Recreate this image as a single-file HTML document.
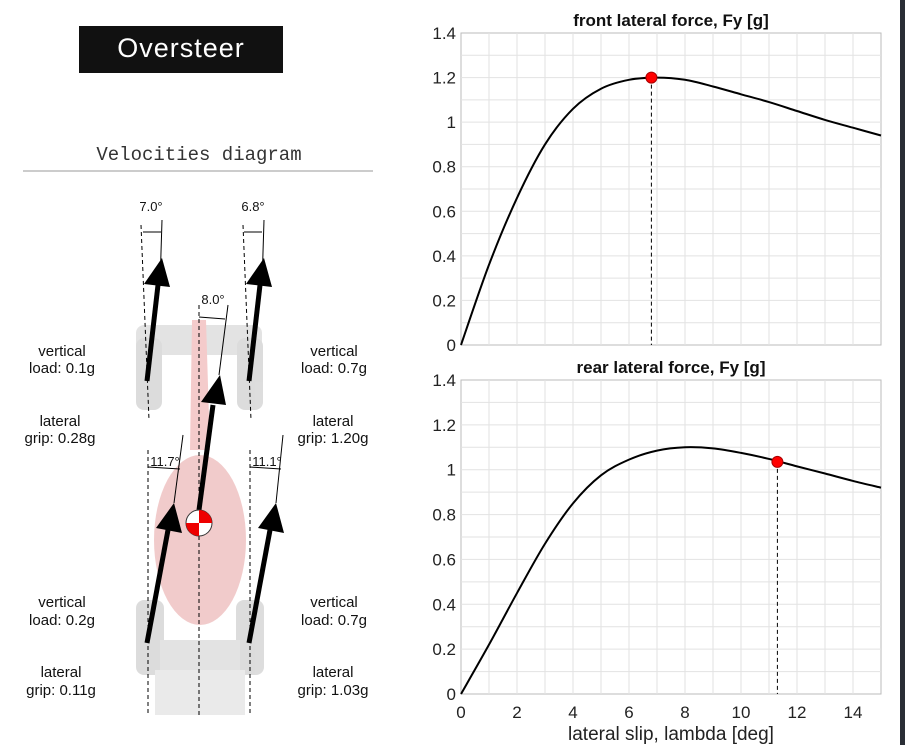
<!DOCTYPE html>
<html><head><meta charset="utf-8"><style>
html,body{margin:0;padding:0;background:#fff;width:905px;height:745px;overflow:hidden}
svg text{font-family:"Liberation Sans",sans-serif}
</style></head><body>
<svg width="905" height="745" viewBox="0 0 905 745">
<rect x="900" y="0" width="5" height="745" fill="#2a2e36"/>
<g>
<rect x="79" y="26" width="204" height="47" fill="#111"/>
<text x="181" y="57" text-anchor="middle" font-size="27" fill="#fff" letter-spacing="1">Oversteer</text>
</g>
<text x="199" y="160" text-anchor="middle" font-size="19" font-family="Liberation Mono" style="font-family:'Liberation Mono',monospace" fill="#333">Velocities diagram</text>
<line x1="23" y1="171" x2="373" y2="171" stroke="#999" stroke-width="1"/>
<g opacity="0.2">
<rect x="136" y="325" width="126" height="30" rx="8" fill="#777"/>
<rect x="136" y="338" width="26" height="72" rx="8" fill="#555"/>
<rect x="237" y="338" width="26" height="72" rx="8" fill="#555"/>
<path d="M192 320 L206 320 L210 450 L190 450 Z" fill="#c00"/>
<ellipse cx="200" cy="540" rx="46" ry="85" fill="#b00"/>
<rect x="136" y="600" width="28" height="75" rx="8" fill="#555"/>
<rect x="236" y="600" width="28" height="75" rx="8" fill="#555"/>
<rect x="160" y="640" width="80" height="30" fill="#777"/>
<rect x="155" y="670" width="90" height="45" fill="#999"/>
</g>
<g stroke="#000" stroke-width="1" stroke-dasharray="4,3">
<line x1="141" y1="225" x2="149" y2="420"/><line x1="243" y1="225" x2="251" y2="420"/>
<line x1="199" y1="305" x2="199" y2="715"/><line x1="148" y1="450" x2="148" y2="715"/><line x1="250" y1="450" x2="250" y2="715"/>
</g>
<g stroke="#000" fill="#000">
<line x1="143" y1="232" x2="161" y2="232" stroke-width="1"/>
<line x1="162" y1="220" x2="160" y2="285" stroke-width="1"/>
<line x1="147" y1="381" x2="158" y2="285" stroke-width="5"/>
<path d="M162 258 L170 287 L144 284 Z" stroke="none"/>
<line x1="244" y1="232" x2="262" y2="232" stroke-width="1"/>
<line x1="264" y1="220" x2="262" y2="285" stroke-width="1"/>
<line x1="249" y1="381" x2="260" y2="285" stroke-width="5"/>
<path d="M264 258 L272 287 L246 284 Z" stroke="none"/>
<line x1="199" y1="317" x2="225" y2="319" stroke-width="1"/>
<line x1="228" y1="305" x2="219" y2="375" stroke-width="1"/>
<line x1="199" y1="510" x2="213" y2="405" stroke-width="5"/>
<path d="M220 375 L226 405 L201 402 Z" stroke="none"/>
<line x1="148" y1="467" x2="180" y2="469" stroke-width="1"/>
<line x1="183" y1="435" x2="174" y2="503" stroke-width="1"/>
<line x1="147" y1="643" x2="168" y2="530" stroke-width="5"/>
<path d="M174 503 L182 533 L156 528 Z" stroke="none"/>
<line x1="250" y1="467" x2="281" y2="469" stroke-width="1"/>
<line x1="283" y1="435" x2="276" y2="503" stroke-width="1"/>
<line x1="249" y1="643" x2="270" y2="530" stroke-width="5"/>
<path d="M276 503 L284 533 L258 528 Z" stroke="none"/>
</g>
<g>
<circle cx="199" cy="523" r="13" fill="#fff" stroke="#333"/>
<path d="M199 523 L199 510 A13 13 0 0 1 212 523 Z" fill="#e00"/>
<path d="M199 523 L199 536 A13 13 0 0 1 186 523 Z" fill="#e00"/>
</g>
<g font-size="13" fill="#111" text-anchor="middle">
<text x="151" y="211">7.0°</text><text x="253" y="211">6.8°</text><text x="213" y="304">8.0°</text>
<text x="165" y="466">11.7°</text><text x="267" y="466">11.1°</text>
</g>
<g font-size="15" fill="#111" text-anchor="middle">
<text x="62" y="356">vertical</text><text x="62" y="373">load: 0.1g</text>
<text x="60" y="426">lateral</text><text x="60" y="443">grip: 0.28g</text>
<text x="334" y="356">vertical</text><text x="334" y="373">load: 0.7g</text>
<text x="333" y="426">lateral</text><text x="333" y="443">grip: 1.20g</text>
<text x="62" y="607">vertical</text><text x="62" y="625">load: 0.2g</text>
<text x="61" y="677">lateral</text><text x="61" y="695">grip: 0.11g</text>
<text x="334" y="607">vertical</text><text x="334" y="625">load: 0.7g</text>
<text x="333" y="677">lateral</text><text x="333" y="695">grip: 1.03g</text>
</g>
<g id="charts"></g>
</svg>
<script>
const xTicks=[0,2,4,6,8,10,12,14];
const yTicks=[0,0.2,0.4,0.6,0.8,1,1.2,1.4];
const slip=[0,1,2,3,4,5,6,7,8,9,10,11,12,13,14,15];
const frontFy=[0,0.36,0.66,0.9,1.06,1.15,1.19,1.2,1.19,1.16,1.125,1.09,1.05,1.01,0.975,0.94];
const rearFy=[0,0.22,0.45,0.67,0.85,0.975,1.045,1.085,1.1,1.095,1.075,1.048,1.015,0.983,0.95,0.92];
const frontPoint=[6.8,1.2];
const rearPoint=[11.3,1.035];
const NS="http://www.w3.org/2000/svg";
const root=document.getElementById('charts');
function mk(tag,attrs,parent){const e=document.createElementNS(NS,tag);for(const k in attrs)e.setAttribute(k,attrs[k]);(parent||root).appendChild(e);return e;}
function drawChart(name,top,bottom,title,ys,pt,showX){
  const L=461,R=881;
  const sx=v=>L+(v/15)*(R-L), sy=v=>bottom-(v/1.4)*(bottom-top);
  const g=mk('g',{});
  
  
  mk('rect',{x:L,y:top,width:R-L,height:bottom-top,fill:'#fff',stroke:'#bbb'},g);
  for(let i=1;i<15;i++){mk('line',{x1:sx(i),x2:sx(i),y1:top,y2:bottom,stroke:'#e2e2e2'},g);}
  for(let i=1;i<14;i++){mk('line',{x1:L,x2:R,y1:sy(i/10),y2:sy(i/10),stroke:'#e2e2e2'},g);}
  yTicks.forEach(t=>{const tx=mk('text',{x:L-5,y:sy(t)+6,'text-anchor':'end','font-size':17,fill:'#222'},g);tx.textContent=String(t);
    
    });
  if(showX){xTicks.forEach(t=>{const tx=mk('text',{x:sx(t),y:bottom+24,'text-anchor':'middle','font-size':17,fill:'#222'},g);tx.textContent=String(t);
    
    });}
  const tt=mk('text',{x:(L+R)/2,y:top-7,'text-anchor':'middle','font-size':17,'font-weight':'bold',fill:'#111'},g);tt.textContent=title;
  
  
  const P=slip.map((x,i)=>[sx(x),sy(ys[i])]);
  let d='M'+P[0][0]+' '+P[0][1];
  for(let i=0;i<P.length-1;i++){const p0=P[Math.max(0,i-1)],p1=P[i],p2=P[i+1],p3=P[Math.min(P.length-1,i+2)];
    d+=` C${p1[0]+(p2[0]-p0[0])/6} ${p1[1]+(p2[1]-p0[1])/6} ${p2[0]-(p3[0]-p1[0])/6} ${p2[1]-(p3[1]-p1[1])/6} ${p2[0]} ${p2[1]}`;}
  const c=mk('path',{d:d,fill:'none',stroke:'#000','stroke-width':2},g);
  
  
  const dl=mk('line',{x1:sx(pt[0]),x2:sx(pt[0]),y1:sy(pt[1]),y2:bottom,stroke:'#000','stroke-dasharray':'4,3'},g);
  
  
  const m=mk('circle',{cx:sx(pt[0]),cy:sy(pt[1]),r:5.5,fill:'#f00',stroke:'#a00'},g);
  
  
}
drawChart('front-lateral-force-chart',33,345,'front lateral force, Fy [g]',frontFy,frontPoint,false);
drawChart('rear-lateral-force-chart',380,694,'rear lateral force, Fy [g]',rearFy,rearPoint,true);
const xl=mk('text',{x:671,y:740,'text-anchor':'middle','font-size':19,fill:'#222'});
xl.textContent='lateral slip, lambda [deg]';


</script>
</body></html>
